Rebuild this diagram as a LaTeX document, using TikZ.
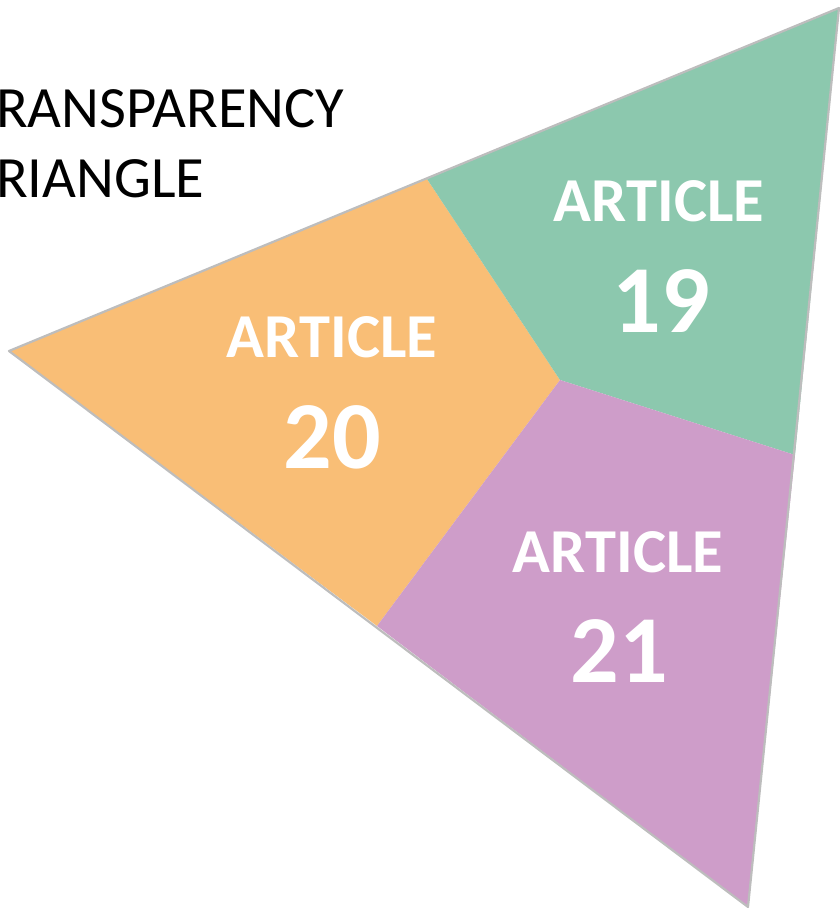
\documentclass[tikz,border=0pt]{standalone}
\usepackage{fontspec}
\setmainfont{Carlito}
\definecolor{orng}{HTML}{F9BE76}
\definecolor{grn}{HTML}{8CC8AE}
\definecolor{purp}{HTML}{CE9DC9}
\definecolor{edge}{HTML}{BDBDBD}
\begin{document}
\begin{tikzpicture}[x=1pt,y=-1pt,
  lbl/.style={text=white,font=\bfseries\fontsize{62.5}{62.5}\selectfont,inner sep=0pt,anchor=base},
  num/.style={text=white,font=\bfseries\fontsize{96}{96}\selectfont,inner sep=0pt,anchor=base},
  ttl/.style={text=black,font=\fontsize{58.5}{58.5}\selectfont,inner sep=0pt,anchor=base west}]
\useasboundingbox (0,0) rectangle (839,909);
\coordinate (L) at (9,351);
\coordinate (T) at (839,8);
\coordinate (B) at (748,907);
\coordinate (C) at (560,380);
\coordinate (P) at (427,179);
\coordinate (Q) at (795,455);
\coordinate (R) at (377,626);
\fill[orng] (L) -- (P) -- (C) -- (R) -- cycle;
\fill[grn] (P) -- (T) -- (Q) -- (C) -- cycle;
\fill[purp] (C) -- (Q) -- (B) -- (R) -- cycle;
\draw[edge,line width=2.2pt,line join=round] (L) -- (T) -- (B) -- cycle;
\node[ttl] (t1) at (-4,128) {RANSPARENCY};
\node[ttl] (t2) at (-4,198) {RIANGLE};
\node[lbl] (a19) at (659,222) {ARTICLE};
\node[num] (n19) at (661,332) {19};
\node[lbl] (a20) at (332,357) {ARTICLE};
\node[num] (n20) at (332,468) {20};
\node[lbl] (a21) at (618,572) {ARTICLE};
\node[num] (n21) at (619,682) {21};
\end{tikzpicture}
\end{document}
